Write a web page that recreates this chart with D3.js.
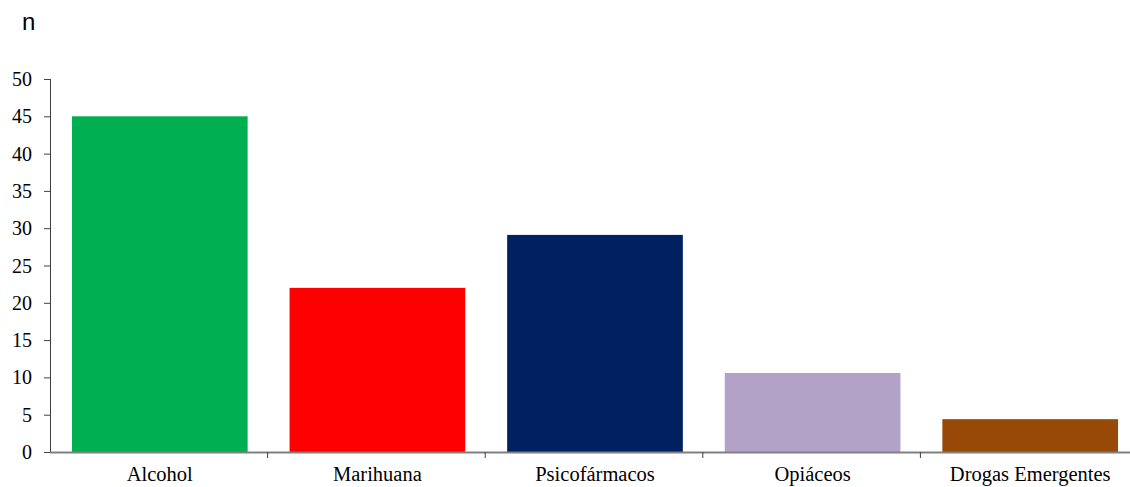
<!DOCTYPE html>
<html>
<head>
  <meta charset="UTF-8">
  <style>
    body { margin: 0; background: white; }
    .tick-label { font-family: "Liberation Serif", serif; fill: black; }
  </style>
</head>
<body>
<svg></svg>
<script src="https://d3js.org/d3.v7.min.js"></script>
<script>

let width = 1130, height = 487;

// data
let categories = ["Alcohol", "Marihuana", "Psicofármacos", "Opiáceos", "Drogas Emergentes"];
let values = [45, 22, 29.1, 10.6, 4.4];
let colors = ["#00B050", "#FF0000", "#002060", "#B2A2C7", "#984807"];
let yTicks = [0, 5, 10, 15, 20, 25, 30, 35, 40, 45, 50];

let svg = d3.select("svg")
    .attr("width", width)
    .attr("height", height);

let padOuter = 22 / 218;
let x = d3.scaleBand()
    .domain(categories)
    .range([50, 1140])
    .paddingInner(42 / 218)
    .paddingOuter(padOuter);

let y = d3.scaleLinear()
    .domain([0, 50])
    .range([452, 79]);

// bars
svg.append("g")
    .selectAll("rect")
    .data(categories)
    .enter()
    .append("rect")
    .attr("x", d => x(d))
    .attr("width", x.bandwidth())
    .attr("y", (d, i) => y(values[i]))
    .attr("height", (d, i) => y(0) - y(values[i]))
    .attr("fill", (d, i) => colors[i]);

// y axis
let yAxis = svg.append("g");
yAxis.append("line")
    .attr("x1", 50.5).attr("x2", 50.5)
    .attr("y1", y(50)).attr("y2", y(0))
    .attr("stroke", "#404040").attr("stroke-width", 1);
yAxis.selectAll(".yt")
    .data(yTicks)
    .enter().append("line")
    .attr("x1", 44).attr("x2", 50)
    .attr("y1", d => y(d) + 0.5).attr("y2", d => y(d) + 0.5)
    .attr("stroke", "#404040");
yAxis.selectAll("text")
    .data(yTicks)
    .enter().append("text")
    .attr("class", "tick-label")
    .style("font-size", "20px")
    .attr("x", 32)
    .attr("y", d => y(d) + 7)
    .attr("text-anchor", "end")
    .text(d => d);

// x axis
let step = x.step();
let xAxis = svg.append("g");
xAxis.append("line")
    .attr("x1", 50).attr("x2", width)
    .attr("y1", y(0) + 0.5).attr("y2", y(0) + 0.5)
    .attr("stroke", "#808080").attr("stroke-width", 2);
xAxis.selectAll(".xt")
    .data(categories.slice(1))
    .enter().append("line")
    .attr("x1", d => x(d) - step * padOuter)
    .attr("x2", d => x(d) - step * padOuter)
    .attr("y1", y(0)).attr("y2", y(0) + 6)
    .attr("stroke", "#404040");
xAxis.selectAll("text")
    .data(categories)
    .enter().append("text")
    .attr("class", "tick-label")
    .style("font-size", "20.5px")
    .attr("x", d => x(d) + x.bandwidth() / 2)
    .attr("y", 481)
    .attr("text-anchor", "middle")
    .text(d => d);

// axis title
svg.append("text")
    .attr("x", 22)
    .attr("y", 30)
    .style("font-family", "'Liberation Sans', Arial, sans-serif")
    .style("font-size", "24px")
    .text("n");

</script>
</body>
</html>
